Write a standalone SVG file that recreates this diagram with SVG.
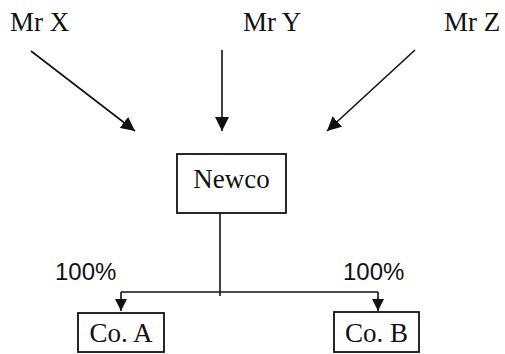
<svg xmlns="http://www.w3.org/2000/svg" width="505" height="354" viewBox="0 0 505 354">
<style>
text{font-family:"Liberation Serif","Times New Roman",serif;font-size:27px;fill:#111}
.pct{font-family:"Liberation Sans",Arial,sans-serif;font-size:24px}
.box{fill:#fff;stroke:#111;stroke-width:1.8}
.ln{stroke:#111;stroke-width:1.6;fill:none}
</style>
<defs>
<marker id="ah" viewBox="0 0 10 10" refX="10" refY="5" markerWidth="12" markerHeight="12" markerUnits="userSpaceOnUse" orient="auto">
<path d="M0,0 L10,5 L0,10 z" fill="#111"/>
</marker>
<marker id="ah2" viewBox="0 0 10 10" refX="10" refY="5" markerWidth="14" markerHeight="14" markerUnits="userSpaceOnUse" orient="auto">
<path d="M0,0 L10,5 L0,10 z" fill="#111"/>
</marker>
</defs>
<rect width="505" height="354" fill="#fff"/>
<g id="mrx"><text x="10" y="31">Mr X</text></g>
<g id="mry"><text x="243" y="31">Mr Y</text></g>
<g id="mrz"><text x="444" y="31">Mr Z</text></g>
<g id="newco"><rect class="box" x="177" y="154" width="109" height="59"/><text x="231.5" y="188" text-anchor="middle">Newco</text></g>
<g id="coa"><rect class="box" x="78" y="313" width="86" height="39"/><text x="121" y="342" text-anchor="middle">Co. A</text></g>
<g id="cob"><rect class="box" x="334" y="312" width="85" height="40"/><text x="376.5" y="342" text-anchor="middle">Co. B</text></g>
<g id="connectors">
<line class="ln" x1="31" y1="51" x2="135" y2="131" marker-end="url(#ah2)"/>
<line class="ln" x1="222" y1="50" x2="222" y2="131" marker-end="url(#ah2)"/>
<line class="ln" x1="415" y1="50" x2="327" y2="131" marker-end="url(#ah2)"/>
<polyline class="ln" points="220,213 220,296"/>
<polyline class="ln" points="121,292 378,292"/>
<line class="ln" x1="121" y1="292" x2="121" y2="311" marker-end="url(#ah)"/>
<line class="ln" x1="378" y1="292" x2="378" y2="311" marker-end="url(#ah)"/>
<text class="pct" x="55" y="280">100%</text>
<text class="pct" x="343" y="280">100%</text>
</g>
</svg>
